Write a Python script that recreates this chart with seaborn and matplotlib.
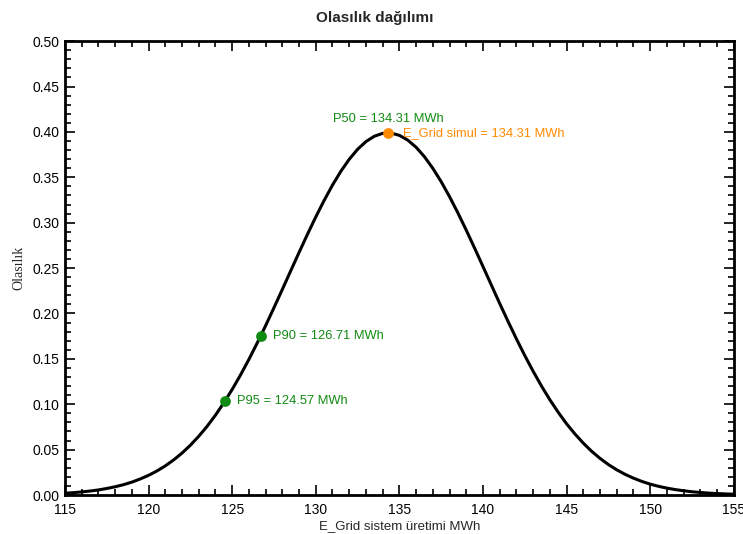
import numpy as np
import pandas as pd
import matplotlib
matplotlib.use("Agg")
import matplotlib.pyplot as plt
from matplotlib.ticker import MultipleLocator, FormatStrFormatter
import seaborn as sns

# Probability curve, every 0.5 MWh from 115 to 155
energy = np.arange(115, 155.5, 0.5)
probability = [0.0020, 0.0026, 0.0034, 0.0044, 0.0056, 0.0072, 0.0091, 0.0114,
               0.0142, 0.0177, 0.0217, 0.0265, 0.0321, 0.0387, 0.0462, 0.0549,
               0.0647, 0.0757, 0.0880, 0.1016, 0.1163, 0.1323, 0.1494, 0.1676,
               0.1866, 0.2064, 0.2265, 0.2469, 0.2672, 0.2871, 0.3063, 0.3245,
               0.3414, 0.3566, 0.3698, 0.3808, 0.3893, 0.3952, 0.3984, 0.3987,
               0.3962, 0.3910, 0.3831, 0.3727, 0.3599, 0.3452, 0.3287, 0.3108,
               0.2918, 0.2720, 0.2518, 0.2314, 0.2111, 0.1913, 0.1721, 0.1537,
               0.1364, 0.1201, 0.1050, 0.0912, 0.0785, 0.0673, 0.0572, 0.0482,
               0.0404, 0.0336, 0.0278, 0.0228, 0.0186, 0.0150, 0.0120, 0.0096,
               0.0076, 0.0060, 0.0047, 0.0036, 0.0028, 0.0021, 0.0016, 0.0012,
               0.0009]

# P-values
p_labels = ["P95", "P90"]
p_energy = [124.57, 126.71]
p_prob = [0.1031, 0.1755]
p50_energy = 134.31
p50_prob = 0.3989

GREEN = "#118a11"
ORANGE = "#ff8a00"

sns.set_theme(style="ticks")
plt.rcParams["font.family"] = ["Liberation Sans", "DejaVu Sans"]

df = pd.DataFrame({"energy": energy, "probability": probability})
pts = pd.DataFrame({"energy": p_energy, "probability": p_prob})

fig = plt.figure(figsize=(7.43, 5.34), dpi=100)
ax = fig.add_axes([0.0875, 0.073, 0.900, 0.850])

sns.lineplot(data=df, x="energy", y="probability", color="black", linewidth=2.2, ax=ax)
sns.scatterplot(data=pts, x="energy", y="probability", color=GREEN, s=60,
                edgecolor=GREEN, linewidth=0, zorder=5, ax=ax)
ax.scatter([p50_energy], [p50_prob], color=ORANGE, s=60, zorder=6, linewidth=0)

for lab, x, y in zip(p_labels, p_energy, p_prob):
    ax.annotate(f"{lab} = {x:.2f} MWh", (x, y), xytext=(9, 0),
                textcoords="offset points", ha="left", va="center",
                color=GREEN, fontsize=9.3)
ax.annotate(f"P50 = {p50_energy:.2f} MWh", (p50_energy, p50_prob), xytext=(0, 10),
            textcoords="offset points", ha="center", va="center",
            color=GREEN, fontsize=9.3)
ax.annotate(f"E_Grid simul = {p50_energy:.2f} MWh", (p50_energy, p50_prob),
            xytext=(11, 0), textcoords="offset points", ha="left", va="center",
            color=ORANGE, fontsize=9.3)

ax.set_xlim(115, 155)
ax.set_ylim(0, 0.5)
ax.xaxis.set_major_locator(MultipleLocator(5))
ax.xaxis.set_minor_locator(MultipleLocator(1))
ax.yaxis.set_major_locator(MultipleLocator(0.05))
ax.yaxis.set_minor_locator(MultipleLocator(0.01))
ax.yaxis.set_major_formatter(FormatStrFormatter("%.2f"))
ax.tick_params(which="both", direction="in", top=True, right=True,
               labelsize=10, colors="black", width=1.2)
ax.tick_params(which="major", length=7)
ax.tick_params(which="minor", length=4)
ax.tick_params(axis="x", pad=6)
ax.tick_params(axis="y", pad=4)
for sp in ax.spines.values():
    sp.set_visible(True)
    sp.set_linewidth(2)
    sp.set_color("black")

ax.set_xlabel("E_Grid sistem üretimi MWh", fontsize=9.5, labelpad=2)
ax.set_ylabel("Olasılık", fontsize=10, family=["Liberation Serif", "DejaVu Serif"],
              labelpad=5)
fig.suptitle("Olasılık dağılımı", x=0.505, y=0.98, fontsize=11, fontweight="bold")

fig.savefig("out.png", dpi=100)
